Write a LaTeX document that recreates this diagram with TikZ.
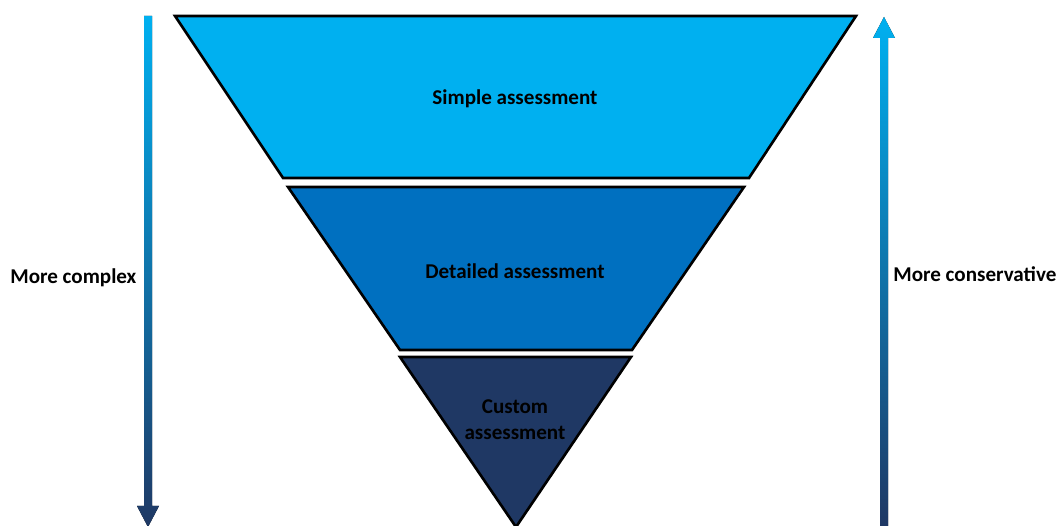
\documentclass[tikz,border=0pt]{standalone}
\usepackage{fontspec}
\setmainfont{Carlito}
\definecolor{clight}{HTML}{00B0F0}
\definecolor{cmid}{HTML}{0070C0}
\definecolor{cdark}{HTML}{1F3864}
\tikzset{
  every picture/.style={font=\bfseries\fontsize{12}{14.8}\selectfont},
  tier/.style={draw=black, fill=#1, line width=1.5pt, line join=miter},
  tag/.style={inner sep=0pt, anchor=west},
  tiertext/.style={inner sep=0pt, align=center},
  shadearrow/.style={top color=clight, bottom color=cdark, draw=none},
}

\begin{document}
\begin{tikzpicture}[x=0.02cm, y=-0.02cm]
  \useasboundingbox (0,0) rectangle (1059,526);
  % the three tiers of the funnel
  \draw[tier=clight] (175,16) -- (856,16) -- (749,178) -- (283,178) -- cycle;
  \draw[tier=cmid] (288,187) -- (744,187) -- (632,350) -- (400,350) -- cycle;
  \draw[tier=cdark] (400,357) -- (631,357) -- (516,527) -- cycle;
  \node[tiertext] (simple) at (515,99) {Simple assessment};
  \node[tiertext] (detailed) at (515,271) {Detailed assessment};
  \node[tiertext] (custom) at (515,420) {Custom\\assessment};
  % side arrows, light at the top and dark at the bottom
  \coordinate (down) at (148,16);
  \coordinate (up) at (884,526);
  \fill[shadearrow] (down) ++(-4,0) -- ++(8,0) -- ++(0,490) -- ++(7,0) -- (148,527) -- (137,506) -- ++(7,0) -- cycle;
  \fill[shadearrow] (up) ++(-4,0) -- ++(8,0) -- ++(0,-488) -- ++(7,0) -- (884,17) -- (873,38) -- ++(7,0) -- cycle;
  \node[tag] (complex) at (10,278) {More complex};
  \node[tag] (conservative) at (893,274) {More conservative};
\end{tikzpicture}
\end{document}
